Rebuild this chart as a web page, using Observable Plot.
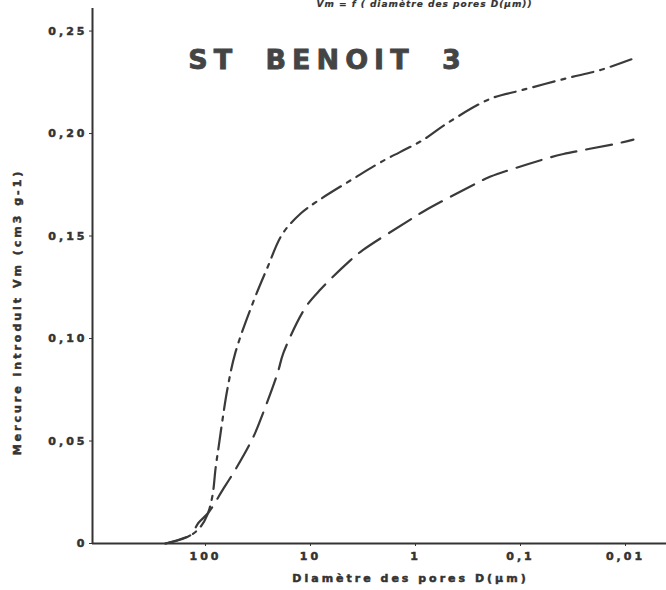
<!DOCTYPE html>
<html>
<head>
<meta charset="utf-8">
<script src="https://cdn.jsdelivr.net/npm/d3@7"></script>
<script src="https://cdn.jsdelivr.net/npm/@observablehq/plot@0.6"></script>
<style>
  html, body { margin: 0; padding: 0; background: white; }
</style>
</head>
<body>
<div id="chart"></div>
<script>
// Pore diameter D (µm) and intruded mercury Vm (cm3 g-1)
const upperD  = [240, 139, 112, 96, 86, 80, 75, 69, 62, 52, 35, 26, 18.5, 12.4, 8.6, 3.9, 2.15, 0.84, 0.50, 0.193, 0.10, 0.036, 0.0173, 0.0080];
const upperVm = [0, 0.004, 0.008, 0.014, 0.023, 0.037, 0.047, 0.060, 0.075, 0.093, 0.118, 0.134, 0.151, 0.161, 0.167, 0.178, 0.186, 0.197, 0.205, 0.217, 0.221, 0.227, 0.231, 0.237];
const lowerD  = [240, 139, 117, 94, 67, 52, 35, 28.6, 20.6, 18.1, 11.2, 8.0, 4.2, 3.2, 1.12, 0.84, 0.257, 0.193, 0.055, 0.039, 0.0124, 0.0084];
const lowerVm = [0, 0.004, 0.010, 0.015, 0.027, 0.036, 0.052, 0.063, 0.083, 0.093, 0.115, 0.124, 0.138, 0.143, 0.158, 0.162, 0.176, 0.179, 0.188, 0.190, 0.195, 0.197];

const xTicks = [100, 10, 1, 0.1, 0.01];
const yTicks = [0, 0.05, 0.10, 0.15, 0.20, 0.25];
const xDomain = [1191, 0.00407];
const yDomain = [0, 0.261];

const titleText = "ST BENOIT 3";
const topText = "Vm = f ( diamètre des pores D(µm))";
const xLabel = "Diamètre des pores D(µm)";
const yLabel = "Mercure introduit Vm (cm3 g-1)";

const upper = upperD.map((d, i) => ({D: d, Vm: upperVm[i]}));
const lower = lowerD.map((d, i) => ({D: d, Vm: lowerVm[i]}));

const ink = "#333";

const chart = Plot.plot({
  width: 666,
  height: 590,
  marginLeft: 92,
  marginRight: 0,
  marginTop: 8,
  marginBottom: 47,
  style: {
    fontFamily: "DejaVu Sans",
    fontSize: "11px",
    fontWeight: "bold",
    letterSpacing: "3px",
    color: ink,
    background: "white"
  },
  x: {
    type: "log",
    domain: xDomain,
    ticks: xTicks,
    tickFormat: d => String(d).replace(".", ","),
    tickSize: 3,
    tickPadding: 6,
    label: null
  },
  y: {
    domain: yDomain,
    ticks: yTicks,
    tickFormat: d => d === 0 ? "0" : d.toFixed(2).replace(".", ","),
    tickSize: 3,
    tickPadding: 2,
    label: null
  },
  marks: [
    Plot.ruleY([yDomain[0]], {stroke: ink, strokeWidth: 2}),
    Plot.ruleX([xDomain[0]], {stroke: ink, strokeWidth: 2}),
    Plot.line(upper, {x: "D", y: "Vm", stroke: "#3a3a3a", strokeWidth: 2.2, curve: "catmull-rom", strokeDasharray: "22,7,4,7"}),
    Plot.line(lower, {x: "D", y: "Vm", stroke: "#3a3a3a", strokeWidth: 2.2, curve: "catmull-rom", strokeDasharray: "26,10"}),
    Plot.text([titleText], {text: d => d, frameAnchor: "top-left", dx: 235, dy: 52, fontSize: 27, fontWeight: "bold", fill: "#444", lineAnchor: "middle", textAnchor: "middle"}),
    Plot.text([topText], {text: d => d, frameAnchor: "top-left", dx: 440, dy: -4, fontSize: 9, fontStyle: "italic", fontWeight: "bold", fill: ink, lineAnchor: "middle", textAnchor: "end"}),
    Plot.text([xLabel], {text: d => d, frameAnchor: "bottom", dx: 31, dy: 35, lineAnchor: "middle", textAnchor: "middle", fill: ink}),
    Plot.text([yLabel], {text: d => d, frameAnchor: "left", dx: -75, dy: 36, rotate: -90, lineAnchor: "middle", textAnchor: "middle", fill: ink})
  ]
});

const svg = d3.select(chart);
svg.selectAll("text")
  .style("stroke", ink)
  .style("stroke-width", "0.5px");
svg.selectAll("text")
  .filter(function() { return this.textContent === titleText; })
  .style("letter-spacing", "6px")
  .style("word-spacing", "12px")
  .style("stroke", "#444")
  .style("stroke-width", "0.8px");
svg.selectAll("text")
  .filter(function() { return this.textContent === topText; })
  .style("letter-spacing", "1px")
  .style("stroke-width", "0.2px");

document.getElementById("chart").appendChild(chart);
</script>
</body>
</html>
